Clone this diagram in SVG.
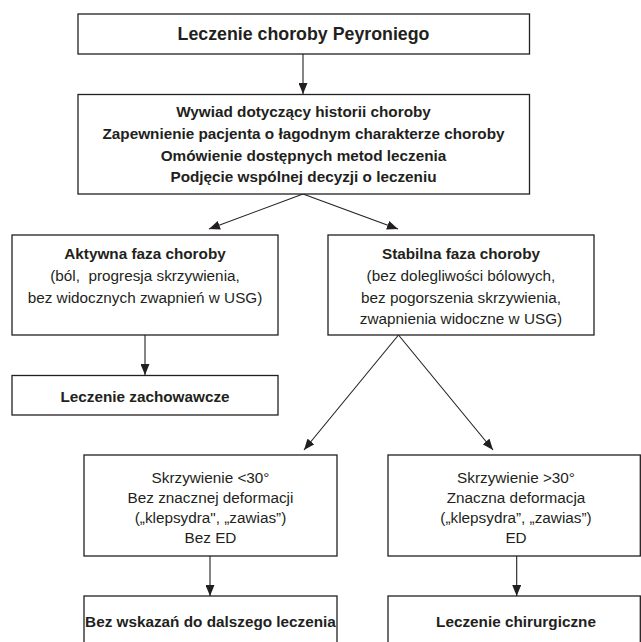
<svg xmlns="http://www.w3.org/2000/svg" width="641" height="642" viewBox="0 0 641 642">
<style>
.box{fill:#fff;stroke:#231f20;stroke-width:1.3}
.t{font-family:"Liberation Sans",Arial,sans-serif;font-size:15.3px;fill:#231f20;text-anchor:middle;white-space:pre}
.b{font-weight:bold}
.title{font-size:17.8px}
.c{stroke:#231f20;stroke-width:1.1;fill:none;marker-end:url(#ah)}
</style>
<defs>
<marker id="ah" markerUnits="userSpaceOnUse" markerWidth="12" markerHeight="9" refX="11" refY="4.5" orient="auto">
<path d="M0,0 L11,4.5 L0,9 z" fill="#231f20"/>
</marker>
</defs>
<rect width="641" height="642" fill="#fff"/>
<g id="connectors">
<line class="c" x1="303" y1="54" x2="303" y2="94"/>
<line class="c" x1="303" y1="194" x2="209" y2="229"/>
<line class="c" x1="303" y1="194" x2="398" y2="229"/>
<line class="c" x1="145" y1="335" x2="145" y2="375"/>
<line class="c" x1="398.5" y1="335" x2="304" y2="450"/>
<line class="c" x1="398.5" y1="335" x2="493" y2="450"/>
<line class="c" x1="210" y1="556" x2="210" y2="596"/>
<line class="c" x1="516.7" y1="556" x2="516.7" y2="596"/>
</g>
<g id="n1">
<rect class="box" x="78" y="14" width="451.5" height="40"/>
<text class="t b title" x="303.5" y="39.5">Leczenie choroby Peyroniego</text>
</g>
<g id="n2">
<rect class="box" x="78" y="94.5" width="451.5" height="99.5"/>
<text class="t b" x="303.5" y="117.2">Wywiad dotyczący historii choroby</text>
<text class="t b" x="303.5" y="138.8">Zapewnienie pacjenta o łagodnym charakterze choroby</text>
<text class="t b" x="303.5" y="160.5">Omówienie dostępnych metod leczenia</text>
<text class="t b" x="303.5" y="182.2">Podjęcie wspólnej decyzji o leczeniu</text>
</g>
<g id="n3">
<rect class="box" x="12" y="235" width="266" height="100"/>
<text class="t b" x="145" y="258.5">Aktywna faza choroby</text>
<text class="t" x="145" y="280.5">(ból,  progresja skrzywienia,</text>
<text class="t" x="145" y="302.5">bez widocznych zwapnień w USG)</text>
</g>
<g id="n4">
<rect class="box" x="328" y="235" width="266" height="100"/>
<text class="t b" x="461" y="258.5">Stabilna faza choroby</text>
<text class="t" x="461" y="280.5">(bez dolegliwości bólowych,</text>
<text class="t" x="461" y="302.5">bez pogorszenia skrzywienia,</text>
<text class="t" x="461" y="324">zwapnienia widoczne w USG)</text>
</g>
<g id="n5">
<rect class="box" x="12" y="375.5" width="266" height="39.5"/>
<text class="t b" x="145" y="402">Leczenie zachowawcze</text>
</g>
<g id="n6">
<rect class="box" x="84" y="455" width="253" height="101"/>
<text class="t" x="210.5" y="482.5">Skrzywienie &lt;30°</text>
<text class="t" x="210.5" y="502.8">Bez znacznej deformacji</text>
<text class="t" x="210.5" y="523">(„klepsydra", „zawias”)</text>
<text class="t" x="210.5" y="543">Bez ED</text>
</g>
<g id="n7">
<rect class="box" x="388" y="455" width="252.3" height="101"/>
<text class="t" x="516" y="482.5">Skrzywienie &gt;30°</text>
<text class="t" x="516" y="502.8">Znaczna deformacja</text>
<text class="t" x="516" y="523">(„klepsydra”, „zawias”)</text>
<text class="t" x="516" y="543">ED</text>
</g>
<g id="n8">
<rect class="box" x="84" y="596" width="253" height="60"/>
<text class="t b" x="210.5" y="627">Bez wskazań do dalszego leczenia</text>
</g>
<g id="n9">
<rect class="box" x="388" y="596" width="252.3" height="60"/>
<text class="t b" x="516" y="627">Leczenie chirurgiczne</text>
</g>
</svg>
